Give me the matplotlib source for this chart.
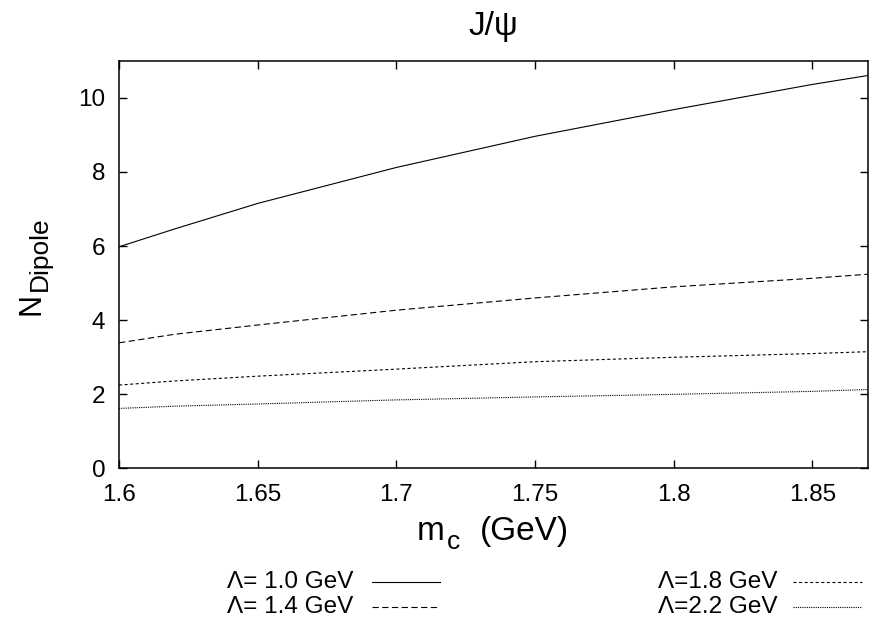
import matplotlib
matplotlib.use("Agg")
import matplotlib.pyplot as plt
from matplotlib.lines import Line2D

plt.rcParams['font.family'] = ['Liberation Sans', 'DejaVu Sans']
plt.rcParams['lines.scale_dashes'] = False

# m_c values (GeV) and N_Dipole
mc = [1.60, 1.62, 1.65, 1.70, 1.75, 1.80, 1.85, 1.87]
n_lam10 = [5.98, 6.46, 7.15, 8.12, 8.96, 9.68, 10.36, 10.60]
n_lam14 = [3.39, 3.62, 3.87, 4.27, 4.60, 4.90, 5.13, 5.24]
n_lam18 = [2.25, 2.36, 2.49, 2.68, 2.88, 3.00, 3.10, 3.15]
n_lam22 = [1.62, 1.68, 1.74, 1.85, 1.93, 2.00, 2.08, 2.13]

labels = ["\u039b= 1.0 GeV", "\u039b= 1.4 GeV", "\u039b=1.8 GeV", "\u039b=2.2 GeV"]
series = [n_lam10, n_lam14, n_lam18, n_lam22]
dashes = [None, (4.5, 2.5), (2.2, 1.8), (0.8, 0.8)]

xticks = [1.6, 1.65, 1.7, 1.75, 1.8, 1.85]
xticklabels = ["1.6", "1.65", "1.7", "1.75", "1.8", "1.85"]
yticks = [0, 2, 4, 6, 8, 10]

W, H = 869.0, 621.0
fig = plt.figure(figsize=(8.69, 6.21), dpi=100)
ax = fig.add_axes([0.137, 0.2456, 0.8618, 0.6567])


def fx(px):
    return px / W


def fy(py):
    return 1 - py / H


for y, d in zip(series, dashes):
    if d is None:
        ax.plot(mc, y, color='black', lw=0.8)
    else:
        ax.plot(mc, y, color='black', lw=0.8, dashes=d)

ax.set_xlim(1.6, 1.87)
ax.set_ylim(0, 11)
ax.set_xticks(xticks)
ax.set_xticklabels(xticklabels)
ax.set_yticks(yticks)
ax.tick_params(direction='in', length=6, width=1, top=True, right=True,
               labelsize=17.5)
ax.tick_params(axis='x', pad=11)
ax.tick_params(axis='y', pad=10)
for s in ax.spines.values():
    s.set_linewidth(1.1)

# title and axis labels placed by hand (gnuplot style subscripts)
fig.text(fx(493), fy(35), "J/\u03c8", fontsize=24, ha='center', va='baseline')

fig.text(fx(417), fy(540), "m", fontsize=24, ha='left', va='baseline')
fig.text(fx(447), fy(549), "c", fontsize=19, ha='left', va='baseline')
fig.text(fx(480), fy(540), "(GeV)", fontsize=24, ha='left', va='baseline')

fig.text(fx(40), fy(315), "N", fontsize=22, rotation=90, rotation_mode='anchor',
         ha='left', va='baseline')
fig.text(fx(47), fy(291), "Dipole", fontsize=19, rotation=90, rotation_mode='anchor',
         ha='left', va='baseline')

# legend drawn by hand in two columns below the axes
rows = [582, 607]
cols = [(353, 372, 440), (777, 793, 862)]
for i, (lab, d) in enumerate(zip(labels, dashes)):
    tx, x0, x1 = cols[i // 2]
    yy = rows[i % 2]
    fig.text(fx(tx), fy(yy), lab, ha='right', va='center', fontsize=17.5)
    ln = Line2D([fx(x0), fx(x1)], [fy(yy), fy(yy)], color='black',
                lw=0.8, transform=fig.transFigure)
    if d is not None:
        ln.set_dashes(d)
    fig.add_artist(ln)

fig.savefig("out.png", dpi=100)
